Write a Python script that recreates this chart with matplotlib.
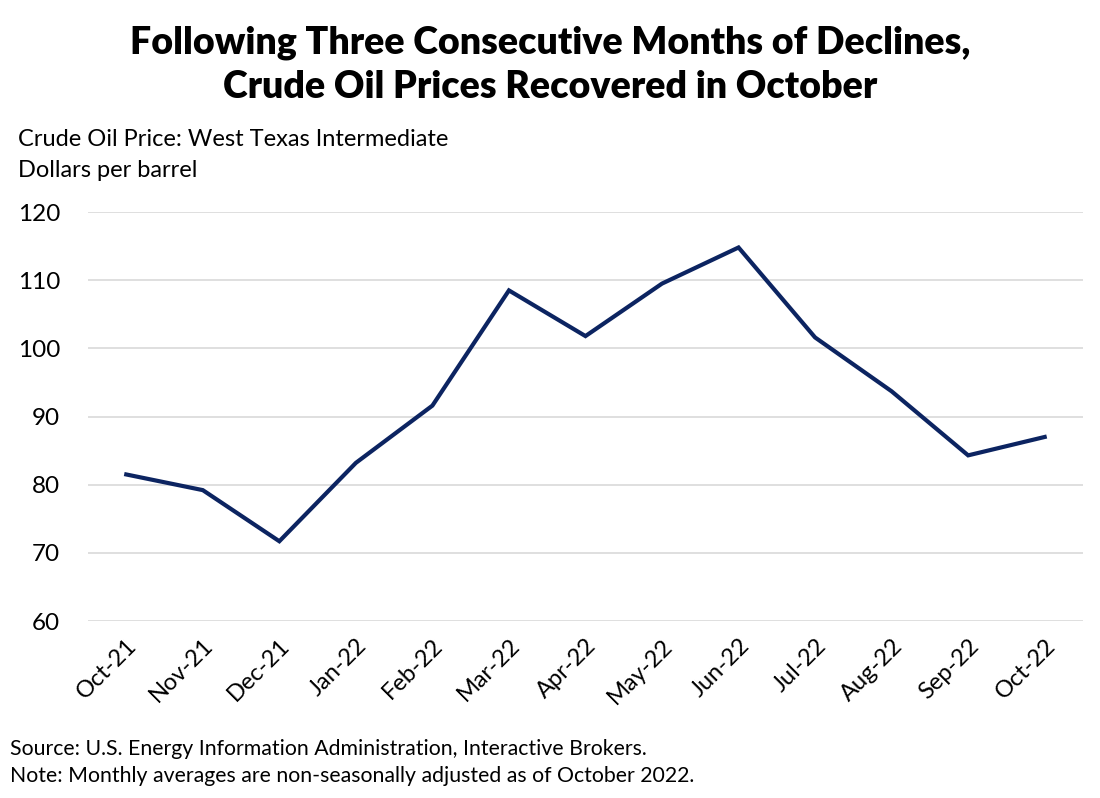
import matplotlib.pyplot as plt

months = ['Oct-21', 'Nov-21', 'Dec-21', 'Jan-22', 'Feb-22', 'Mar-22', 'Apr-22',
          'May-22', 'Jun-22', 'Jul-22', 'Aug-22', 'Sep-22', 'Oct-22']
wti_price = [81.5, 79.2, 71.7, 83.2, 91.6, 108.5, 101.8, 109.5, 114.8, 101.6, 93.7, 84.3, 87.0]
y_ticks = [60, 70, 80, 90, 100, 110, 120]

plt.rcParams['font.family'] = ['Lato', 'DejaVu Sans']

fig = plt.figure(figsize=(11, 7.98), dpi=100)
ax = fig.add_axes([0.08, 0.2218, 0.9045, 0.5125])

ax.plot(range(len(months)), wti_price, color='#0c2461', linewidth=3, solid_joinstyle='miter')

ax.set_xlim(-0.5, len(months) - 0.5)
ax.set_ylim(60, 120)
ax.set_yticks(y_ticks)
ax.set_yticklabels([str(v) for v in y_ticks], fontsize=17.5)
ax.set_xticks(range(len(months)))
ax.set_xticklabels(months, rotation=45, ha='right', rotation_mode='anchor', fontsize=17)
ax.tick_params(axis='both', length=0)
ax.tick_params(axis='y', pad=20)
ax.tick_params(axis='x', pad=10)

ax.grid(axis='y', color='#d9d9d9', linewidth=1.2)
ax.set_axisbelow(True)
for s in ax.spines.values():
    s.set_visible(False)

# title, two lines placed separately
fig.text(0.5, 0.947, 'Following Three Consecutive Months of Declines,',
         ha='center', va='center', fontsize=27, fontweight='heavy')
fig.text(0.5, 0.891, 'Crude Oil Prices Recovered in October',
         ha='center', va='center', fontsize=27, fontweight='heavy')
fig.text(0.016, 0.825, 'Crude Oil Price: West Texas Intermediate', fontsize=17, va='center')
fig.text(0.016, 0.786, 'Dollars per barrel', fontsize=17, va='center')
fig.text(0.009, 0.062, 'Source: U.S. Energy Information Administration, Interactive Brokers.', fontsize=15.3, va='center')
fig.text(0.009, 0.027, 'Note: Monthly averages are non-seasonally adjusted as of October 2022.', fontsize=15.3, va='center')

fig.savefig('out.png', dpi=100)
